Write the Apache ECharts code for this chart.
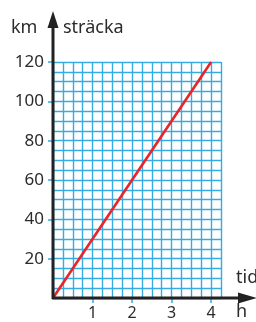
<!DOCTYPE html>
<html>
<head>
<meta charset="utf-8">
<script src="https://cdn.jsdelivr.net/npm/echarts@6/dist/echarts.min.js"></script>
<style>
  html, body { margin: 0; padding: 0; background: #fff; }
  #chart { width: 256px; height: 322px; }
</style>
</head>
<body>
<div id="chart"></div>
<script>
// tid (h) och sträcka (km)
var timeHours = [0, 4]
var distanceKm = [0, 120]
var xTickLabels = [1, 2, 3, 4]
var yTickLabels = [20, 40, 60, 80, 100, 120]

var gridColor = '#35abe2'
var textColor = '#2b2b2b'
var font = 'Noto Sans'

var myChart = echarts.init(document.getElementById('chart'))

// axel 0 ritar rutnätet, axel 1 ritar etiketter och streck
var gridAxisX = {
  type: 'value', min: 0, max: 4.25, interval: 0.25,
  axisLine: { show: false }, axisTick: { show: false }, axisLabel: { show: false },
  splitLine: { show: true, lineStyle: { color: gridColor, width: 1.4 } }
}
var gridAxisY = {
  type: 'value', min: 0, max: 120, interval: 5,
  axisLine: { show: false }, axisTick: { show: false }, axisLabel: { show: false },
  splitLine: { show: true, lineStyle: { color: gridColor, width: 1.4 } }
}

myChart.setOption({
  animation: false,
  grid: {
    left: 53,
    top: 62,
    width: 168,
    height: 236
  },
  xAxis: [
    gridAxisX,
    {
      type: 'value', min: 0, max: 4.25, position: 'bottom',
      axisLine: { show: false },
      axisTick: { show: true, customValues: xTickLabels, length: 5, lineStyle: { color: gridColor, width: 1.5 } },
      axisLabel: { customValues: xTickLabels, margin: 7, color: textColor, fontFamily: font, fontSize: 16 },
      splitLine: { show: false }
    }
  ],
  yAxis: [
    gridAxisY,
    {
      type: 'value', min: 0, max: 120, position: 'left',
      axisLine: { show: false },
      axisTick: { show: true, customValues: yTickLabels, length: 5, lineStyle: { color: gridColor, width: 1.5 } },
      axisLabel: { customValues: yTickLabels, margin: 9, color: textColor, fontFamily: font, fontSize: 17 },
      splitLine: { show: false }
    }
  ],
  graphic: [
    // y-axelns pil
    { type: 'line', z: 10, shape: { x1: 53, y1: 299, x2: 53, y2: 24 }, style: { stroke: '#222', lineWidth: 3 } },
    { type: 'polygon', z: 10, shape: { points: [[53, 11], [47.5, 28], [58.5, 28]] }, style: { fill: '#222' } },
    // x-axelns pil
    { type: 'line', z: 10, shape: { x1: 52, y1: 298, x2: 244, y2: 298 }, style: { stroke: '#222', lineWidth: 3 } },
    { type: 'polygon', z: 10, shape: { points: [[257, 298], [238, 292.5], [238, 303.5]] }, style: { fill: '#222' } },
    { type: 'text', left: 11, top: 19, style: { text: 'km', fill: textColor, font: '18px "Noto Sans"' } },
    { type: 'text', left: 63, top: 19, style: { text: 'sträcka', fill: textColor, font: '18px "Noto Sans"' } },
    { type: 'text', left: 236, top: 269, style: { text: 'tid', fill: textColor, font: '18px "Noto Sans"' } },
    { type: 'text', left: 236, top: 303, style: { text: 'h', fill: textColor, font: '18px "Noto Sans"' } }
  ],
  series: [
    {
      type: 'line',
      data: timeHours.map(function (t, i) { return [t, distanceKm[i]] }),
      symbol: 'none',
      z: 5,
      lineStyle: { color: '#e8252b', width: 2.6 }
    }
  ]
})
</script>
</body>
</html>
